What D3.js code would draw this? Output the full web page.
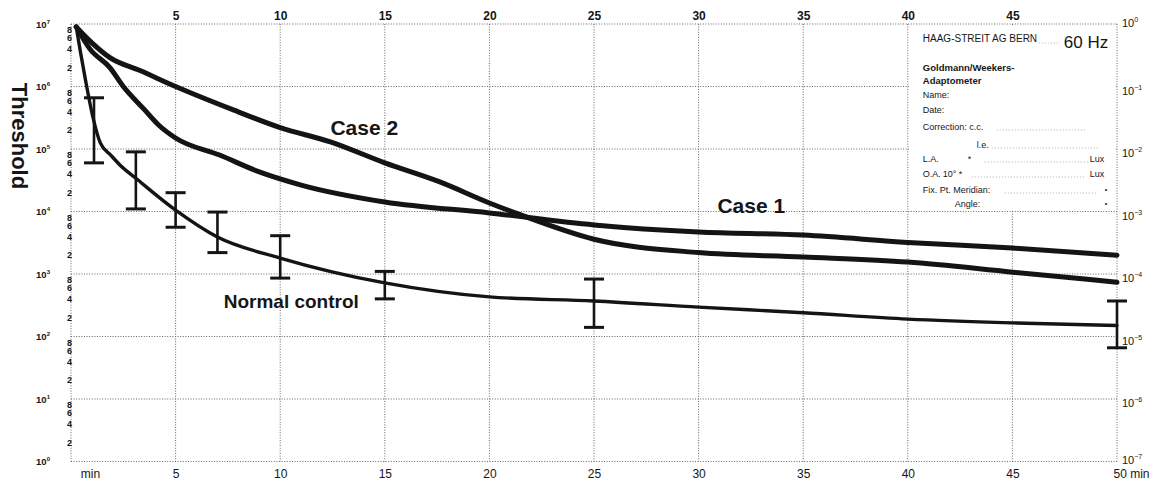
<!DOCTYPE html>
<html><head><meta charset="utf-8">
<script src="https://cdn.jsdelivr.net/npm/d3@7"></script>
<style>
body{margin:0;background:#fff}
svg{display:block}
text{font-family:Arial,"Liberation Sans",sans-serif;fill:#161616}
</style>
</head><body>
<svg id="c" width="1151" height="482"></svg>
<script>
// ---------- data ----------
const case2Times  = [0.25, 1.0, 1.86, 3.3, 5, 7.7, 10, 12.4, 15, 17.6, 20, 21.5, 25, 30, 35, 40, 45, 50];
const case2Values = [9.0e6, 5.0e6, 2.9e6, 1.8e6, 1.0e6, 4.3e5, 2.2e5, 1.3e5, 6.0e4, 3.0e4, 1.37e4, 8.8e3, 3.6e3, 2.2e3, 1.87e3, 1.55e3, 1.07e3, 7.4e2];

const case1Times  = [0.25, 0.9, 1.86, 2.5, 3.5, 4.2, 5, 7.1, 9, 11, 15, 20, 25, 30, 35, 40, 45, 50];
const case1Values = [9.0e6, 4.0e6, 2.0e6, 1.0e6, 4.3e5, 2.4e5, 1.5e5, 8.0e4, 4.3e4, 2.65e4, 1.42e4, 9.5e3, 6.1e3, 4.7e3, 4.2e3, 3.2e3, 2.6e3, 2.0e3];

const normalTimes  = [0.25, 0.45, 0.67, 1.05, 1.4, 1.9, 2.35, 3.1, 5, 7, 10, 15, 20, 25, 30, 35, 40, 45, 50];
const normalValues = [9.0e6, 3.6e6, 1.4e6, 3.2e5, 1.25e5, 8.0e4, 5.5e4, 3.4e4, 1.05e4, 3.9e3, 1.8e3, 7.2e2, 4.3e2, 3.7e2, 2.95e2, 2.4e2, 1.9e2, 1.65e2, 1.5e2];

const errorTimes = [1.1, 3.1, 5, 7, 10, 15, 25, 50];
const errorLow   = [6.0e4, 1.1e4, 5.6e3, 2.2e3, 8.6e2, 4.0e2, 1.4e2, 66];
const errorHigh  = [6.6e5, 9.0e4, 2.0e4, 9.8e3, 4.1e3, 1.1e3, 8.3e2, 3.7e2];

const timeTicks = [0, 5, 10, 15, 20, 25, 30, 35, 40, 45, 50];
const topTickLabels = ["", "5", "10", "15", "20", "25", "30", "35", "40", "45", ""];
const bottomTickLabels = ["min", "5", "10", "15", "20", "25", "30", "35", "40", "45", "50 min"];
const leftExponents = [7, 6, 5, 4, 3, 2, 1, 0];
const rightExponents = ["0", "−1", "−2", "−3", "−4", "−5", "−6", "−7"];
const minorMultipliers = [2, 4, 6, 8];

const seriesLabels = ["Case 2", "Case 1", "Normal control"];

// ---------- layout ----------
const svg = d3.select("#c");
const x = d3.scaleLinear().domain([0, 50]).range([71, 1117]);
const y = d3.scaleLog().domain([1, 1e7]).range([461.5, 24]);
const ink = "#141414";
const gridColor = "#666";

// gridlines
const grid = svg.append("g");
grid.selectAll("line.v").data(timeTicks).join("line")
  .attr("x1", d => x(d)).attr("x2", d => x(d))
  .attr("y1", y(1e7)).attr("y2", y(1))
  .attr("stroke", gridColor).attr("stroke-width", 1).attr("stroke-dasharray", "1,1.6");
grid.selectAll("line.h").data(leftExponents).join("line")
  .attr("x1", x(0)).attr("x2", x(50))
  .attr("y1", d => y(Math.pow(10, d))).attr("y2", d => y(Math.pow(10, d)))
  .attr("stroke", gridColor).attr("stroke-width", 1).attr("stroke-dasharray", "1,1.6");

// info box (white panel over the grid, top-right cell block)
const bx0 = x(40), bx1 = x(50), by0 = y(1e7), by1 = y(1e4);
svg.append("rect").attr("x", bx0 + 1).attr("y", by0 + 1)
  .attr("width", bx1 - bx0 - 2).attr("height", by1 - by0 - 2).attr("fill", "#fff");

const box = svg.append("g").attr("font-size", 9);
function boxText(t, px, py, opts = {}) {
  const e = box.append("text").attr("x", px).attr("y", py).text(t);
  if (opts.size) e.attr("font-size", opts.size);
  if (opts.weight) e.attr("font-weight", opts.weight);
  return e;
}
function leader(xa, xb, yy) {
  box.append("line").attr("x1", xa).attr("x2", xb).attr("y1", yy).attr("y2", yy)
    .attr("stroke", "#9a9a9a").attr("stroke-width", 0.8).attr("stroke-dasharray", "1,2");
}
const lx = bx0 + 15;
boxText("HAAG-STREIT AG BERN", lx, by0 + 18, {size: 10});
leader(bx0 + 131, bx0 + 150, by0 + 19);
boxText("60 Hz", bx0 + 156, by0 + 24, {size: 17});
boxText("Goldmann/Weekers-", lx, by0 + 47, {weight: "bold", size: 9.5});
boxText("Adaptometer", lx, by0 + 60, {weight: "bold", size: 9.5});
boxText("Name:", lx, by0 + 74);
boxText("Date:", lx, by0 + 89);
boxText("Correction: c.c.", lx, by0 + 106);
leader(bx0 + 89, bx0 + 179, by0 + 106);
boxText("l.e.", bx0 + 69, by0 + 124);
leader(bx0 + 84, bx0 + 190, by0 + 124);
boxText("L.A.", lx, by0 + 138);
boxText("*", bx0 + 60, by0 + 138);
leader(bx0 + 77, bx0 + 180, by0 + 138);
boxText("Lux", bx0 + 182, by0 + 138);
boxText("O.A.", lx, by0 + 153);
boxText("10°", bx0 + 35, by0 + 153);
boxText("*", bx0 + 51, by0 + 153);
leader(bx0 + 64, bx0 + 178, by0 + 153);
boxText("Lux", bx0 + 182, by0 + 153);
boxText("Fix. Pt. Meridian:", lx, by0 + 169);
leader(bx0 + 97, bx0 + 188, by0 + 169);
boxText("•", bx0 + 197, by0 + 168, {size: 7});
boxText("Angle:", bx0 + 47, by0 + 183);
boxText("•", bx0 + 197, by0 + 182, {size: 7});

// ---------- axes labels ----------
// top axis
const topAxis = d3.axisTop(x).tickValues(timeTicks).tickSize(0)
  .tickFormat((d, i) => topTickLabels[i]);
const gTop = svg.append("g").attr("transform", `translate(0,${y(1e7) - 1})`).call(topAxis);
gTop.select(".domain").remove();
gTop.selectAll("text").attr("font-size", 12).attr("font-weight", "bold")
  .attr("fill", ink).attr("font-family", "Arial, 'Liberation Sans', sans-serif");

// bottom axis
const bottomAxis = d3.axisBottom(x).tickValues(timeTicks).tickSize(0)
  .tickFormat((d, i) => bottomTickLabels[i]);
const gBot = svg.append("g").attr("transform", `translate(0,${y(1) + 5})`).call(bottomAxis);
gBot.select(".domain").remove();
gBot.selectAll("text").attr("font-size", 12).attr("fill", ink)
  .attr("font-family", "Arial, 'Liberation Sans', sans-serif")
  .attr("dx", (d, i) => i === 0 ? 19 : (i === timeTicks.length - 1 ? 14 : 0));

// left decade labels
const gLeft = svg.append("g");
leftExponents.forEach(e => {
  const t = gLeft.append("text").attr("x", 50).attr("y", y(Math.pow(10, e)) + 3.5)
    .attr("text-anchor", "end").attr("font-size", 9.5).attr("font-weight", "bold");
  t.append("tspan").text("10");
  t.append("tspan").attr("dy", -4).attr("font-size", 6).text(String(e));
});
// left minor labels 2,4,6,8
const minorVals = [];
for (let e = 0; e < 7; e++) minorMultipliers.forEach(m => minorVals.push(m * Math.pow(10, e)));
gLeft.selectAll("text.minor").data(minorVals).join("text").attr("class", "minor")
  .attr("x", 69.5).attr("y", d => y(d) + 3.2).attr("text-anchor", "middle")
  .attr("font-size", 9).attr("font-weight", "bold").text(d => String(Math.round(d / Math.pow(10, Math.floor(Math.log10(d) + 1e-9)))));

// right labels
const gRight = svg.append("g");
rightExponents.forEach((e, i) => {
  const t = gRight.append("text").attr("x", 1122).attr("y", y(Math.pow(10, 7 - i)) + (i === 0 ? 3 : (i === 7 ? 2 : 8)))
    .attr("font-size", 11);
  t.append("tspan").text("10");
  t.append("tspan").attr("dy", -5).attr("font-size", 7).text(e);
});

// y title
svg.append("text").attr("transform", "translate(12,136) rotate(90)")
  .attr("text-anchor", "middle").attr("font-size", 22).attr("font-weight", "bold")
  .text("Threshold");

// ---------- curves ----------
const line = d3.line().x(d => x(d[0])).y(d => y(d[1])).curve(d3.curveMonotoneX);
const zip = (a, b) => a.map((t, i) => [t, b[i]]);
const curves = svg.append("g").attr("fill", "none").attr("stroke", ink)
  .attr("stroke-linecap", "round").attr("stroke-linejoin", "round");
curves.append("path").attr("d", line(zip(case2Times, case2Values))).attr("stroke-width", 5);
curves.append("path").attr("d", line(zip(case1Times, case1Values))).attr("stroke-width", 5);
curves.append("path").attr("d", line(zip(normalTimes, normalValues))).attr("stroke-width", 3.4);

// error bars
const eb = svg.append("g").attr("stroke", ink);
errorTimes.forEach((t, i) => {
  const cx = x(t);
  eb.append("line").attr("x1", cx).attr("x2", cx).attr("y1", y(errorHigh[i])).attr("y2", y(errorLow[i])).attr("stroke-width", 2.6);
  [errorHigh[i], errorLow[i]].forEach(v => {
    eb.append("line").attr("x1", cx - 10).attr("x2", cx + 10).attr("y1", y(v)).attr("y2", y(v)).attr("stroke-width", 3);
  });
});

// series labels (anchored in data units)
const labelAnchors = [[12.4, 1.66e5, 21], [30.9, 9.5e3, 21], [7.3, 2.9e2, 19]];
seriesLabels.forEach((s, i) => {
  svg.append("text").attr("x", x(labelAnchors[i][0])).attr("y", y(labelAnchors[i][1]))
    .attr("font-size", labelAnchors[i][2]).attr("font-weight", "bold").text(s);
});
</script>
</body></html>
